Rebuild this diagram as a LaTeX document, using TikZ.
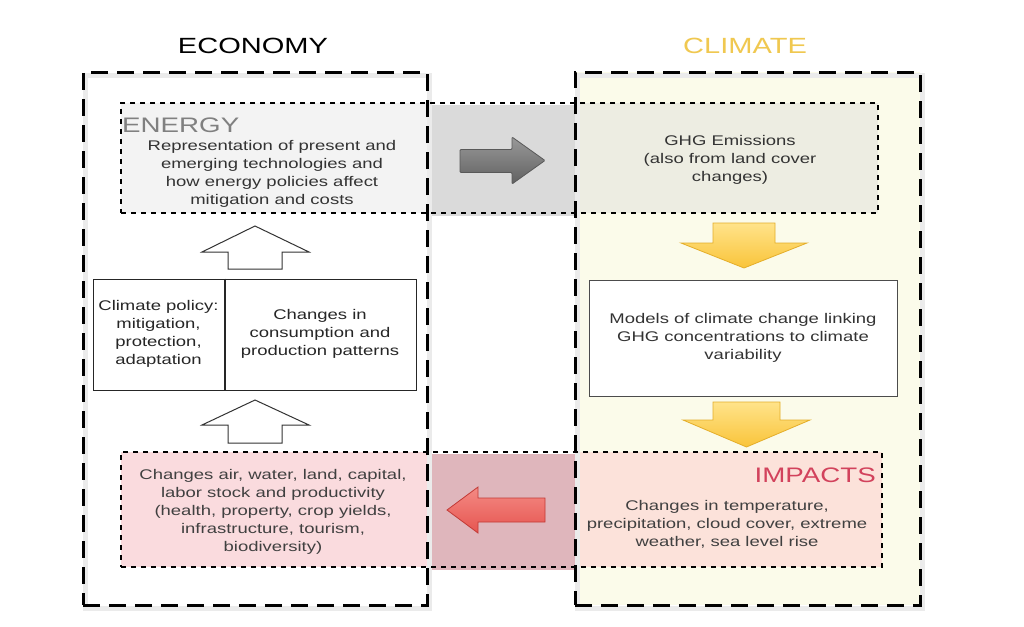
\documentclass[tikz,border=0pt]{standalone}
\usepackage{fontspec}
\setmainfont{Liberation Sans}[FakeStretch=1.32]
\definecolor{climfill}{HTML}{FBFBEA}
\definecolor{enL}{HTML}{F3F3F3}
\definecolor{enM}{HTML}{DADADA}
\definecolor{enR}{HTML}{EDEDE2}
\definecolor{imL}{HTML}{FADBDE}
\definecolor{imM}{HTML}{DFB6BC}
\definecolor{imR}{HTML}{FCE2DA}
\definecolor{climtitle}{HTML}{F0C850}
\definecolor{impred}{HTML}{D2425C}
\definecolor{txtgray}{HTML}{333333}
\definecolor{yelA}{HTML}{FFE38A}
\definecolor{yelB}{HTML}{F9C43A}
\definecolor{yelD}{HTML}{E4AE2A}
\definecolor{redA}{HTML}{F48A84}
\definecolor{redB}{HTML}{E65550}
\definecolor{redD}{HTML}{C23A36}
\tikzset{
  outerbox/.style={draw=black, line width=3pt, dash pattern=on 17pt off 9pt},
  shadowbox/.style={draw=black!8, line width=5pt},
  dotbox/.style={draw=black, line width=1.8pt, dash pattern=on 5pt off 5pt},
  body/.style={align=center, text=txtgray, font=\fontsize{14}{18}\selectfont, inner sep=0pt},
  plainbox/.style={draw=black!85, line width=1pt, inner sep=0pt},
  uparrow/.style={fill=white, draw=black!80, line width=1pt},
  title/.style={font=\fontsize{22}{22}\selectfont, inner sep=0pt, anchor=base},
  label/.style={font=\fontsize{21}{21}\selectfont, inner sep=0pt}
}
\begin{document}
\begin{tikzpicture}[x=1pt,y=-1pt]
\useasboundingbox (0,0) rectangle (1024,626);
\fill[white] (0,0) rectangle (1024,626);

% climate background
\fill[climfill] (575,72) rectangle (920,605);

% band fills
\fill[enL] (121,103) rectangle (427,213);
\fill[enM] (427,105) rectangle (575,216);
\fill[enR] (575,103) rectangle (878,213);
\fill[imL] (121,452) rectangle (427,567);
\fill[imM] (427,454) rectangle (575,570);
\fill[imR] (575,452) rectangle (882,567);

% shadows of outer boxes
\draw[shadowbox] (85,75) rectangle (429,608);
\draw[shadowbox] (577,75) rectangle (922,608);

% outer dashed boxes
\node[outerbox, minimum width=344pt, minimum height=533pt, inner sep=0pt] (economy) at (255,338.5) {};
\node[outerbox, minimum width=345pt, minimum height=533pt, inner sep=0pt] (climate) at (747.5,338.5) {};

% dotted bands
\node[dotbox, minimum width=757pt, minimum height=110pt, inner sep=0pt] (energyband) at (499.5,158) {};
\node[dotbox, minimum width=761pt, minimum height=115pt, inner sep=0pt] (impactband) at (501.5,509.5) {};

% titles
\node[title] (econtitle) at (253,53) {ECONOMY};
\node[title, text=climtitle] (climtitle) at (745,53) {CLIMATE};
\node[label, text=black!50, anchor=base west] (energylabel) at (122,132) {ENERGY};
\node[label, text=impred, anchor=base east] (impactlabel) at (876,482) {IMPACTS};

% energy texts
\node[body] (energytxt) at (272,174) {Representation of present and\\emerging technologies and\\how energy policies affect\\mitigation and costs};
\node[body] (ghg) at (730,160) {GHG Emissions\\(also from land cover\\changes)};

% gray arrow
\draw[draw=black!65, line width=0.8pt, top color=black!40, bottom color=black!62, rounded corners=1pt]
  (460,149.5) -- (512,149.5) -- (512,137) -- (545,160.5) -- (512,184) -- (512,172.5) -- (460,172.5) -- cycle;

% yellow arrows
\draw[draw=yelD, line width=0.8pt, top color=yelA, bottom color=yelB]
  (713,223) -- (775,223) -- (775,243) -- (807,243) -- (744,268) -- (681,243) -- (713,243) -- cycle;
\node[plainbox, draw=black!70, fill=white, minimum width=308pt, minimum height=116pt] (models) at (743,338) {};
\node[body] (modelstxt) at (743,338) {Models of climate change linking\\GHG concentrations to climate\\variability};
\draw[draw=yelD, line width=0.8pt, top color=yelA, bottom color=yelB]
  (713,402) -- (780,402) -- (780,420) -- (810,420) -- (746.5,447) -- (683,420) -- (713,420) -- cycle;

% impacts texts
\node[body, text=black!75] (impacttxt) at (727,524) {Changes in temperature,\\precipitation, cloud cover, extreme\\weather, sea level rise};
\node[body, text=black!75] (econimpact) at (273,512) {Changes air, water, land, capital,\\labor stock and productivity\\(health, property, crop yields,\\infrastructure, tourism,\\biodiversity)};

% red arrow
\draw[draw=redD, line width=0.8pt, top color=redA, bottom color=redB]
  (545,498) -- (478,498) -- (478,487) -- (447,510) -- (478,533) -- (478,522) -- (545,522) -- cycle;

% policy boxes
\node[plainbox, minimum width=131pt, minimum height=111pt] (policy) at (158.5,334.5) {};
\node[plainbox, minimum width=192pt, minimum height=111pt] (changes) at (320,334.5) {};
\draw[line width=2pt, black!85] (policy.north east) -- (policy.south east);
\node[body, text=black!85] (policytxt) at (158.5,334) {Climate policy:\\mitigation,\\protection,\\adaptation};
\node[body, text=black!85] (changestxt) at (320,334) {Changes in\\consumption and\\production patterns};

% white up arrows
\draw[uparrow] (228,269) -- (228,252) -- (202,252) -- (255,226) -- (309,252) -- (282,252) -- (282,269) -- cycle;
\draw[uparrow] (228,443) -- (228,425) -- (202,425) -- (255,400) -- (309,425) -- (282,425) -- (282,443) -- cycle;
\end{tikzpicture}
\end{document}
